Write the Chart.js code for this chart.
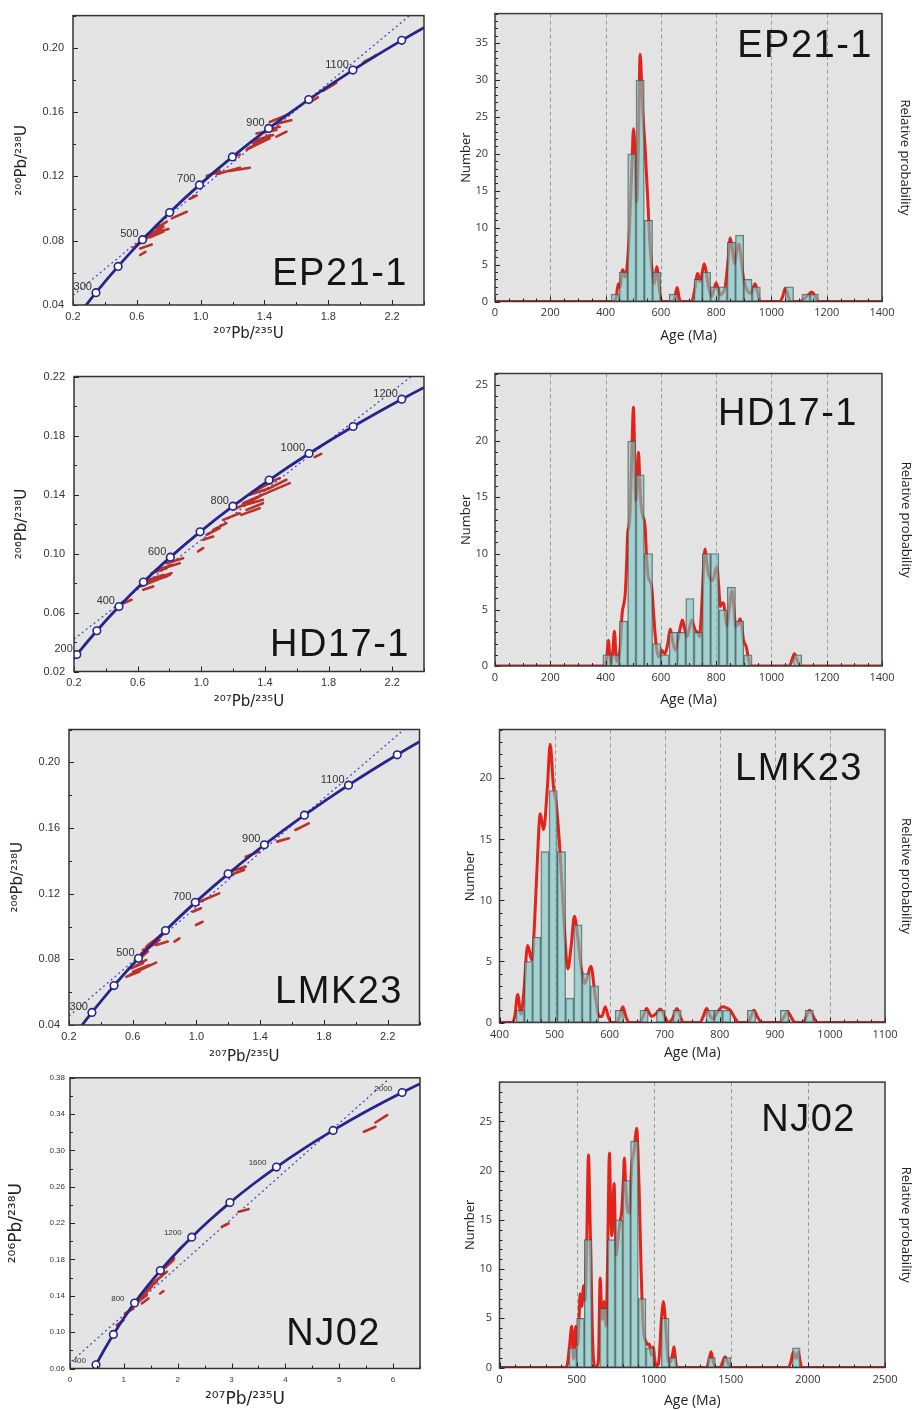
<!DOCTYPE html>
<html><head><meta charset="utf-8">
<script src="https://cdn.jsdelivr.net/npm/chart.js@4.4.0/dist/chart.umd.min.js"></script>
<style>
html,body{margin:0;padding:0;background:#fff;}
#wrap{position:relative;width:914px;height:1410px;overflow:hidden;background:#fff;}
</style></head>
<body><div id="wrap"></div>
<script>
// ---------------- Concordia reference points (age in Ma, 207Pb/235U, 206Pb/238U) ----------------
const concAges = [100,200,300,400,500,600,700,800,900,1000,1100,1200,1300,1400,1500,1600,1700,1800,1900,2000,2100];
const concX = [0.1035,0.2177,0.3438,0.4828,0.6362,0.8056,0.9925,1.1987,1.4264,1.6774,1.9545,2.2603,2.5978,2.9701,3.3810,3.8344,4.3347,4.8867,5.4959,6.1682,6.911];
const concY = [0.01563,0.03151,0.04764,0.06402,0.08065,0.09754,0.1147,0.1321,0.1498,0.1678,0.1861,0.2046,0.2234,0.2426,0.2620,0.2817,0.3018,0.3221,0.3428,0.3638,0.3851];

// ---------------- EP21-1 ----------------
const ep21MarkerAges = [300,400,500,600,700,800,900,1000,1100,1200];
const ep21LabelAges = [300,500,700,900,1100];
const ep21ChordX = [0.2, 2.31];
const ep21ChordY = [0.046, 0.22];
const ep21Ellipses = [
 [0.579,0.0756,0.725,0.0857],[0.600,0.0776,0.746,0.0878],[0.621,0.0796,0.767,0.0888],
 [0.642,0.0817,0.735,0.0898],[0.663,0.0837,0.798,0.0872],[0.683,0.0821,0.767,0.0857],
 [0.621,0.0711,0.654,0.0731],[0.621,0.0752,0.694,0.0776],[0.725,0.0878,0.788,0.0918],
 [0.819,0.0939,0.913,0.0980],[0.933,0.1061,0.975,0.1081],[1.038,0.1203,1.121,0.1234],
 [1.100,0.1213,1.246,0.1254],[1.183,0.1234,1.308,0.1254],[1.204,0.1325,1.246,0.1335],
 [1.288,0.1366,1.413,0.1427],[1.298,0.1376,1.433,0.1437],[1.329,0.1406,1.433,0.1457],
 [1.350,0.1467,1.475,0.1488],[1.350,0.1427,1.454,0.1457],[1.475,0.1447,1.538,0.1478],
 [1.413,0.1488,1.496,0.1508],[1.433,0.1538,1.558,0.1589],[1.475,0.1528,1.569,0.1549],
 [1.683,0.1660,1.735,0.1691],[1.767,0.1732,1.850,0.1782],[2.017,0.1904,2.100,0.1955],
 [2.027,0.1915,2.090,0.1945]
];
const ep21BinStart = 420, ep21BinWidth = 30;
const ep21Counts = [1,4,20,30,11,4,0,1,0,0,3,4,2,2,8,9,3,2,0,0,0,2,0,1,1];
const ep21CurveAge  = [0,425,438,446,452,462,471,483,495,501,507,513,519,525,530,535,543,553,560,567,576,585,595,603,645,652,659,666,672,712,722,733,742,750,757,765,772,784,792,800,808,815,825,833,843,851,858,867,875,882,890,899,911,926,933,941,950,959,1030,1040,1050,1059,1068,1105,1115,1130,1146,1158,1171,1400];
const ep21CurveProb = [0,0,0.5,2.4,1.9,4.3,3.3,7.3,18,23.4,20,13.5,22,33.5,30,25.5,20.8,13.5,8,4.7,2.4,4.7,1.6,0,0,0.8,1.9,0.5,0,0,1.5,3.8,2.7,4.0,5.1,3.8,2.0,0.7,1.6,2.5,1.6,0.9,1.2,2.0,5.5,8.6,7.2,5.1,6.8,7.8,6.0,3.1,1.6,1.1,1.8,2.4,1.2,0,0,0.6,1.8,1.0,0,0,0.3,0.8,1.3,0.7,0,0];

// ---------------- HD17-1 ----------------
const hd17MarkerAges = [200,300,400,500,600,700,800,900,1000,1100,1200];
const hd17LabelAges = [200,400,600,800,1000,1200];
const hd17ChordX = [0.2, 2.32];
const hd17ChordY = [0.042, 0.22];
const hd17Ellipses = [
 [0.489,0.0652,0.562,0.0686],[0.614,0.0776,0.803,0.0855],[0.635,0.0799,0.782,0.0844],
 [0.656,0.0810,0.813,0.0867],[0.667,0.0821,0.761,0.0855],[0.635,0.0754,0.698,0.0776],
 [0.688,0.0867,0.782,0.0900],[0.719,0.0889,0.823,0.0923],[0.761,0.0900,0.865,0.0934],
 [0.782,0.0934,0.886,0.0968],[0.980,0.1014,1.012,0.1036],[1.012,0.1093,1.075,0.1115],
 [1.033,0.1127,1.116,0.1172],[1.075,0.1160,1.158,0.1206],[1.137,0.1228,1.242,0.1273],
 [1.200,0.1296,1.367,0.1386],[1.242,0.1319,1.388,0.1364],[1.263,0.1341,1.409,0.1409],
 [1.252,0.1262,1.367,0.1307],[1.284,0.1296,1.388,0.1341],[1.305,0.1398,1.430,0.1443],
 [1.326,0.1420,1.451,0.1488],[1.367,0.1454,1.493,0.1511],[1.409,0.1409,1.556,0.1477],
 [1.430,0.1443,1.535,0.1500],[1.713,0.1653,1.754,0.1676]
];
const hd17BinStart = 390, hd17BinWidth = 30;
const hd17Counts = [1,1,4,20,17,10,2,1,3,3,6,3,10,10,5,7,4,1,0,0,0,0,0,1];
const hd17CurveAge  = [0,398,405,410,415,419,426,432,437,440,447,453,460,466,471,476,480,485,489,495,501,505,509,514,519,523,527,531,535,543,549,554,559,567,573,579,585,591,597,603,609,615,625,634,643,652,658,664,672,678,686,694,703,712,718,724,732,740,745,750,755,760,766,772,780,788,796,803,809,815,821,827,833,839,848,857,864,871,879,887,893,899,909,916,923,1065,1075,1083,1092,1104,1400];
const hd17CurveProb = [0,0,1.0,2.3,1.0,0.2,1.2,3.1,1.2,0.4,0.8,1.7,4.7,5.5,6.4,9,11.8,12.5,13.8,19,23,19,14.7,16,19,17,14.7,13.8,13.3,12.4,9.4,8.0,7.6,7.0,5.0,2.9,1.5,0.8,1.0,1.4,1.2,1.1,2.0,3.3,2.2,1.4,1.8,2.6,3.6,4.1,3.3,2.6,3.3,4.1,3.7,3.2,3.0,2.6,4.0,6.4,9.0,10.4,9.2,8.2,7.7,7.6,8.4,8.8,7.2,5.3,5.6,5.6,4.5,3.5,5.2,6.7,5.2,3.5,3.7,4.2,3.5,2.3,1.7,0.8,0,0,0.6,1.1,0.6,0,0];

// ---------------- LMK23 ----------------
const lmk23MarkerAges = [300,400,500,600,700,800,900,1000,1100,1200];
const lmk23LabelAges = [300,500,700,900,1100];
const lmk23ChordX = [0.2, 2.304];
const lmk23ChordY = [0.0455, 0.22];
const lmk23Ellipses = [
 [0.581,0.0705,0.747,0.0780],[0.602,0.0725,0.706,0.0765],[0.591,0.0745,0.664,0.0776],
 [0.560,0.0694,0.643,0.0725],[0.612,0.0755,0.685,0.0796],[0.633,0.0796,0.695,0.0847],
 [0.654,0.0837,0.768,0.0918],[0.664,0.0857,0.747,0.0897],[0.685,0.0877,0.789,0.0958],
 [0.695,0.0887,0.810,0.0969],[0.747,0.0887,0.820,0.0908],[0.862,0.0908,0.893,0.0928],
 [0.768,0.0938,0.799,0.0958],[0.976,0.1090,1.028,0.1111],[0.997,0.1009,1.039,0.1029],
 [1.018,0.1151,1.143,0.1202],[1.205,0.1334,1.309,0.1364],[1.184,0.1304,1.299,0.1344],
 [1.309,0.1425,1.393,0.1456],[1.507,0.1517,1.580,0.1537],[1.621,0.1588,1.705,0.1628]
];
const lmk23BinStart = 430, lmk23BinWidth = 15;
const lmk23Counts = [1,5,7,14,19,14,2,8,4,3,0,0,1,0,0,1,0,1,0,1,0,0,0,1,1,1,0,0,1,0,0,0,1,0,0,1];
const lmk23CurveAge  = [400,424,428,433,439,444,451,459,464,468,474,480,487,492,498,503,510,517,524,530,536,542,548,555,560,566,574,581,586,592,598,603,613,618,624,630,636,655,661,667,676,684,692,700,707,714,722,729,734,764,770,776,783,788,795,805,812,819,827,834,850,856,862,869,876,909,916,923,930,937,952,957,963,970,976,1100];
const lmk23CurveProb = [0,0,0.6,2.3,0.7,2.4,6.3,5.1,8.5,12.5,17.1,15.8,19.3,22.8,19.3,18,13.9,8.4,4.4,6.2,8.7,7.0,4.6,3.2,3.8,4.6,2.1,0.5,0.5,1.3,0.4,0,0,0.5,1.3,0.4,0,0,0.5,1.15,0.5,0.7,1.1,0.5,0,0.3,1.15,0.4,0,0,0.5,1.15,0.5,0.3,0.8,1.3,1.2,1.0,0.4,0,0,0.4,1.0,0.4,0,0,0.4,0.9,0.4,0,0,0.5,1.0,0.5,0,0];

// ---------------- NJ02 ----------------
const nj02MarkerAges = [400,600,800,1000,1200,1400,1600,1800,2000];
const nj02LabelAges = [400,800,1200,1600,2000];
const nj02ChordX = [0.03, 5.89];
const nj02ChordY = [0.068, 0.377];
const nj02Ellipses = [
 [0.868,0.1077,0.992,0.1132],[1.023,0.1206,1.178,0.1260],[1.116,0.1260,1.302,0.1352],
 [1.178,0.1297,1.426,0.1407],[1.240,0.1334,1.488,0.1481],[1.271,0.1371,1.550,0.1536],
 [1.302,0.1407,1.519,0.1499],[1.364,0.1444,1.612,0.1554],[1.426,0.1481,1.643,0.1591],
 [1.333,0.1316,1.457,0.1371],[1.612,0.1572,1.736,0.1635],[1.643,0.1591,1.798,0.1664],
 [1.674,0.1426,1.736,0.1451],[1.767,0.1710,1.922,0.1793],[1.829,0.1774,1.934,0.1811],
 [2.015,0.1903,2.077,0.1939],[2.821,0.2160,2.945,0.2196],[3.131,0.2325,3.317,0.2354],
 [5.456,0.3206,5.673,0.3261],[5.673,0.3308,5.890,0.3389]
];
const nj02BinStart = 450, nj02BinWidth = 50;
const nj02Counts = [2,5,13,0,6,13,15,19,23,7,2,0,5,1,0,0,0,0,1,0,1,0,0,0,0,0,0,0,0,2];
const nj02CurveAge  = [0,426,440,454,469,480,495,506,515,523,534,545,555,565,577,586,594,601,609,618,627,635,642,653,660,666,672,678,684,691,700,713,720,728,735,743,750,756,767,778,793,803,810,818,825,834,843,850,858,865,873,882,890,898,905,912,918,925,933,941,951,962,972,979,985,992,998,1005,1013,1022,1031,1038,1046,1055,1063,1071,1078,1087,1096,1106,1117,1125,1132,1140,1150,1344,1358,1372,1386,1400,1430,1446,1463,1480,1500,1873,1890,1906,1915,1923,1930,1938,1948,1960,2500];
const nj02CurveProb = [0,0,0.3,2.2,4.2,0.9,4.2,2.2,4.5,7.5,6.2,8.3,6.8,12,21.6,16,10.1,4.5,0.9,0.1,0,0.2,0.9,9.1,6.5,4.9,5.7,6.7,5.8,4.2,10,21.8,17,13.4,15.8,18.7,14.5,11.4,12.8,14.4,16,19,21.3,18.5,16.7,15.8,15.7,18,20.7,21.4,22,23.6,24.3,22,18.4,14,10.1,6.5,3.9,3.0,2.6,2.3,2.4,1.8,1.25,1.7,2.1,1.0,0.3,0.2,0.4,1.5,3.9,5.8,6.7,5.7,4.2,2.0,0.6,0.5,0.9,1.6,2.1,1.0,0,0,0.7,1.6,0.6,0,0,0.5,1.1,0.5,0,0,0.6,1.6,1.2,0.9,1.2,1.6,0.8,0,0];

// ---------------- Tick labels ----------------
const concXTicks = [0.2,0.6,1.0,1.4,1.8,2.2];
const ep21YTicks = [0.04,0.08,0.12,0.16,0.20];
const hd17YTicks = [0.02,0.06,0.10,0.14,0.18,0.22];
const lmk23YTicks = [0.04,0.08,0.12,0.16,0.20];
const nj02XTicks = [0,1,2,3,4,5,6];
const nj02YTicks = [0.06,0.10,0.14,0.18,0.22,0.26,0.30,0.34,0.38];
const ageTicks1400 = [0,200,400,600,800,1000,1200,1400];
const ageGrid1400 = [200,400,600,800,1000,1200];
const lmkAgeTicks = [400,500,600,700,800,900,1000,1100];
const lmkAgeGrid = [500,600,700,800,900,1000];
const njAgeTicks = [0,500,1000,1500,2000,2500];
const njAgeGrid = [500,1000,1500,2000];
const ep21NumTicks = [0,5,10,15,20,25,30,35];
const hd17NumTicks = [0,5,10,15,20,25];
const lmk23NumTicks = [0,5,10,15,20];
const nj02NumTicks = [0,5,10,15,20,25];

// ---------------- Rendering ----------------
const wrap = document.getElementById('wrap');
const SANS = '"Liberation Sans", Arial, sans-serif';
const OPEN = '"Open Sans", "Liberation Sans", sans-serif';
const DEJA = '"DejaVu Sans", sans-serif';
Chart.defaults.font.family = SANS;

function addCanvas(c){
  const cv = document.createElement('canvas');
  cv.width = c.w; cv.height = c.h;
  cv.style.cssText = `position:absolute;left:${c.l}px;top:${c.t}px;width:${c.w}px;height:${c.h}px;`;
  wrap.appendChild(cv);
  return cv;
}
const fixTicks = arr => s => { s.ticks = arr.map(v => ({value: v})); };

function makeDeco(o){
  return {
    id: 'deco',
    beforeDraw(chart){
      const {ctx, chartArea: a} = chart;
      ctx.save(); ctx.fillStyle = o.bg;
      ctx.fillRect(a.left, a.top, a.right - a.left, a.bottom - a.top);
      ctx.restore();
    },
    beforeDatasetsDraw(chart){
      if (!o.gridX) return;
      const {ctx, chartArea: a} = chart; const xs = chart.scales.x;
      ctx.save(); ctx.strokeStyle = 'rgba(140,140,140,0.85)'; ctx.lineWidth = 1; ctx.setLineDash([4,3]);
      o.gridX.forEach(v => {
        const px = Math.round(xs.getPixelForValue(v)) + 0.5;
        ctx.beginPath(); ctx.moveTo(px, a.top); ctx.lineTo(px, a.bottom); ctx.stroke();
      });
      ctx.restore();
    },
    afterDraw(chart){
      const {ctx, chartArea: a} = chart; const xs = chart.scales.x, ys = chart.scales.y;
      ctx.save();
      ctx.strokeStyle = '#222'; ctx.lineWidth = 1;
      const tx = (v, len) => { const p = Math.round(xs.getPixelForValue(v)) + 0.5; ctx.beginPath(); ctx.moveTo(p, a.bottom); ctx.lineTo(p, a.bottom - len); ctx.stroke(); };
      const ty = (v, len) => { const p = Math.round(ys.getPixelForValue(v)) + 0.5; ctx.beginPath(); ctx.moveTo(a.left, p); ctx.lineTo(a.left + len, p); ctx.stroke(); };
      for (let k = 0; ; k++) { const v = o.xMin + k * o.xMinor; if (v > o.xMax + 1e-9) break; tx(v, 3); }
      for (let k = 0; ; k++) { const v = o.yMin + k * o.yMinor; if (v > o.yMax + 1e-9) break; ty(v, 3); }
      o.xTicks.forEach(v => tx(v, 5));
      o.yTicks.forEach(v => ty(v, 5));
      ctx.strokeStyle = o.frame; ctx.lineWidth = 1.5;
      ctx.strokeRect(a.left, a.top, a.right - a.left, a.bottom - a.top);
      if (o.labelAges) {
        ctx.font = `${o.lblFont}px ${SANS}`; ctx.fillStyle = '#333';
        ctx.textAlign = 'right'; ctx.textBaseline = 'middle';
        o.labelAges.forEach(age => {
          const i = concAges.indexOf(age);
          const px = xs.getPixelForValue(concX[i]), py = ys.getPixelForValue(concY[i]);
          ctx.fillText(String(age), px + o.lblDx, py + o.lblDy);
        });
      }
      ctx.font = `38px ${SANS}`; ctx.fillStyle = '#151515';
      try { ctx.letterSpacing = '1.5px'; } catch(e) {}
      ctx.textAlign = 'right'; ctx.textBaseline = 'alphabetic';
      ctx.fillText(o.name, o.nameX, o.nameY);
      ctx.restore();
    }
  };
}

function metrics(g){
  const c = g.c, A = g.area;
  const lh = f => f * 1.2 / 2;
  return {
    padT: A.T - c.t,
    padR: g.hist ? 0 : (c.l + c.w - A.R),
    yW: A.L - c.l,
    xH: c.t + c.h - A.B,
    y2W: c.l + c.w - A.R,
    yTitlePad: Math.max(0, g.yTitleX - c.l - lh(g.yTitleFont)),
    y2TitlePad: g.hist ? Math.max(0, c.l + c.w - g.y2TitleX - lh(13)) : 0,
    xTitlePad: Math.max(0, c.t + c.h - g.xTitleY - lh(g.xTitleFont)),
    xTickPad: Math.max(0, g.xTickY - A.B - lh(g.tickFont)),
    yTickPad: Math.max(0, A.L - g.yTickR),
    nameX: g.name.x - c.l, nameY: g.name.y - c.t
  };
}

function concordia(name, d, g){
  const m = metrics(g);
  const pos = a => concAges.indexOf(a);
  const curve = concAges.map((a, i) => ({x: concX[i], y: concY[i]}));
  const marks = d.markers.map(a => ({x: concX[pos(a)], y: concY[pos(a)]}));
  const ell = [];
  d.ellipses.forEach(e => { ell.push({x: e[0], y: e[1]}, {x: e[2], y: e[3]}, {x: e[2], y: NaN}); });
  const chord = d.chordX.map((x, i) => ({x: x, y: d.chordY[i]}));
  const deco = makeDeco({bg: '#e4e4e4', frame: '#333', name: name, nameX: m.nameX, nameY: m.nameY,
    xMin: d.xMin, xMax: d.xMax, xMinor: d.xMinor, yMin: d.yMin, yMax: d.yMax, yMinor: d.yMinor,
    xTicks: d.xTicks, yTicks: d.yTicks, labelAges: d.labels, lblFont: g.lblFont, lblDx: g.lblDx, lblDy: g.lblDy});
  new Chart(addCanvas(g.c), {
    type: 'scatter',
    data: {datasets: [
      {data: chord, showLine: true, borderColor: '#4848c0', borderWidth: 1.3, borderDash: [2, 3], pointRadius: 0, order: 4},
      {data: ell, showLine: true, spanGaps: false, borderColor: 'rgba(180,30,22,0.9)', borderWidth: 2.6, borderCapStyle: 'round', pointRadius: 0, order: 3},
      {data: curve, showLine: true, borderColor: '#25258d', borderWidth: 2.8, pointRadius: 0, cubicInterpolationMode: 'monotone', order: 2},
      {data: marks, showLine: false, pointRadius: 3.8, pointBackgroundColor: '#ffffff', pointBorderColor: '#25258d', pointBorderWidth: 1.6, order: 1}
    ]},
    options: {
      responsive: false, animation: false, events: [],
      layout: {padding: {left: 0, top: m.padT, right: m.padR, bottom: 0}},
      plugins: {legend: {display: false}, tooltip: {enabled: false}},
      scales: {
        x: {type: 'linear', min: d.xMin, max: d.xMax, afterBuildTicks: fixTicks(d.xTicks), afterFit: s => { s.height = m.xH; },
            grid: {display: false, drawTicks: false}, border: {display: false},
            ticks: {autoSkip: false, maxRotation: 0, padding: m.xTickPad, color: '#333', font: {size: g.tickFont, family: SANS}, callback: v => Number(v).toFixed(d.xDec)},
            title: {display: true, text: '²⁰⁷Pb/²³⁵U', color: '#222', font: {size: g.xTitleFont, family: DEJA}, padding: {top: 0, bottom: m.xTitlePad}}},
        y: {type: 'linear', min: d.yMin, max: d.yMax, afterBuildTicks: fixTicks(d.yTicks), afterFit: s => { s.width = m.yW; },
            grid: {display: false, drawTicks: false}, border: {display: false},
            ticks: {autoSkip: false, padding: m.yTickPad, color: '#333', font: {size: g.tickFont, family: SANS}, callback: v => Number(v).toFixed(2)},
            title: {display: true, text: '²⁰⁶Pb/²³⁸U', color: '#222', font: {size: g.yTitleFont, family: DEJA}, padding: {top: m.yTitlePad, bottom: 0}}}
      }
    },
    plugins: [deco]
  });
}

function histogram(name, d, g){
  const m = metrics(g);
  const bars = d.counts.map((c, i) => ({x: d.binStart + d.binWidth * (i + 0.5), y: c > 0 ? c : null}));
  const curve = d.curveAge.map((a, i) => ({x: a, y: d.curveProb[i]}));
  const deco = makeDeco({bg: '#e3e3e3', frame: '#3a3a3a', name: name, nameX: m.nameX, nameY: m.nameY, gridX: d.gridX,
    xMin: d.xMin, xMax: d.xMax, xMinor: d.xMinor, yMin: 0, yMax: d.yMax, yMinor: 1,
    xTicks: d.xTicks, yTicks: d.yTicks});
  new Chart(addCanvas(g.c), {
    type: 'bar',
    data: {datasets: [
      {type: 'line', data: curve, borderColor: '#e5221a', borderWidth: 3, pointRadius: 0, cubicInterpolationMode: 'monotone', order: 2},
      {type: 'bar', data: bars, backgroundColor: 'rgba(125,198,196,0.62)', borderColor: 'rgba(60,80,80,0.75)', borderWidth: 1, borderSkipped: false, barPercentage: 1, categoryPercentage: 1, order: 1}
    ]},
    options: {
      responsive: false, animation: false, events: [],
      layout: {padding: {left: 0, top: m.padT, right: 0, bottom: 0}},
      plugins: {legend: {display: false}, tooltip: {enabled: false}},
      scales: {
        x: {type: 'linear', min: d.xMin, max: d.xMax, offset: false, afterBuildTicks: fixTicks(d.xTicks), afterFit: s => { s.height = m.xH; },
            grid: {display: false, drawTicks: false, offset: false}, border: {display: false},
            ticks: {autoSkip: false, maxRotation: 0, padding: m.xTickPad, color: '#333', font: {size: g.tickFont, family: OPEN}, callback: v => String(v)},
            title: {display: true, text: 'Age (Ma)', color: '#222', font: {size: g.xTitleFont, family: OPEN}, padding: {top: 0, bottom: m.xTitlePad}}},
        y: {type: 'linear', min: 0, max: d.yMax, afterBuildTicks: fixTicks(d.yTicks), afterFit: s => { s.width = m.yW; },
            grid: {display: false, drawTicks: false}, border: {display: false},
            ticks: {autoSkip: false, padding: m.yTickPad, color: '#333', font: {size: g.tickFont, family: OPEN}, callback: v => String(v)},
            title: {display: true, text: 'Number', color: '#222', font: {size: g.yTitleFont, family: OPEN}, padding: {top: m.yTitlePad, bottom: 0}}},
        y2: {type: 'linear', position: 'right', min: 0, max: 1, afterFit: s => { s.width = m.y2W; },
            grid: {display: false, drawTicks: false}, border: {display: false}, ticks: {display: false},
            title: {display: true, text: 'Relative probability', color: '#222', font: {size: 13, family: OPEN}, padding: {top: m.y2TitlePad, bottom: 0}}}
      }
    },
    plugins: [deco]
  });
}

// ---------------- Layout (page pixel geometry) ----------------
const baseC = {tickFont: 11, xTitleFont: 15, yTitleFont: 15, lblFont: 11, lblDx: -4, lblDy: -5.5};
const baseH = {hist: true, tickFont: 11, xTitleFont: 14, yTitleFont: 13};
const L = {
  c1: Object.assign({}, baseC, {c: {l:0, t:0, w:440, h:355}, area: {L:73, T:10, R:424, B:305}, yTitleX: 22, xTitleY: 334, xTickY: 317, yTickR: 64, name: {x:408, y:285}}),
  c2: Object.assign({}, baseC, {c: {l:0, t:358, w:440, h:355}, area: {L:74, T:376.5, R:424, B:671.5}, yTitleX: 22, xTitleY: 702, xTickY: 683, yTickR: 65, name: {x:410, y:656}}),
  c3: Object.assign({}, baseC, {c: {l:0, t:713, w:440, h:355}, area: {L:69, T:729.5, R:419.5, B:1025}, yTitleX: 18, xTitleY: 1057, xTickY: 1036.5, yTickR: 60, name: {x:403, y:1003}}),
  c4: Object.assign({}, baseC, {c: {l:0, t:1068, w:440, h:342}, area: {L:70, T:1077, R:420, B:1368.5}, yTitleX: 17, xTitleY: 1400, xTickY: 1380, yTickR: 65, name: {x:381, y:1345},
        tickFont: 8, lblFont: 8, lblDx: -10, lblDy: -4, xTitleFont: 17, yTitleFont: 17}),
  h1: Object.assign({}, baseH, {c: {l:440, t:0, w:474, h:355}, area: {L:495, T:8, R:882, B:301.5}, yTitleX: 466, y2TitleX: 905, xTitleY: 336, xTickY: 313, yTickR: 488, name: {x:873, y:57}}),
  h2: Object.assign({}, baseH, {c: {l:440, t:358, w:474, h:355}, area: {L:495, T:373.5, R:882, B:666}, yTitleX: 466, y2TitleX: 906, xTitleY: 700.5, xTickY: 678, yTickR: 488, name: {x:858, y:425}}),
  h3: Object.assign({}, baseH, {c: {l:440, t:713, w:474, h:355}, area: {L:499.5, T:729.5, R:885, B:1022.5}, yTitleX: 470, y2TitleX: 911, xTitleY: 1053, xTickY: 1035, yTickR: 492, name: {x:863, y:780}}),
  h4: Object.assign({}, baseH, {c: {l:440, t:1068, w:474, h:342}, area: {L:499.5, T:1074.5, R:885, B:1367.5}, yTitleX: 470, y2TitleX: 911, xTitleY: 1401, xTickY: 1380, yTickR: 492, name: {x:856, y:1131}})
};

concordia('EP21-1', {markers: ep21MarkerAges, labels: ep21LabelAges, ellipses: ep21Ellipses, chordX: ep21ChordX, chordY: ep21ChordY,
  xMin: 0.2, xMax: 2.4, xMinor: 0.2, xTicks: concXTicks, xDec: 1, yMin: 0.04, yMax: 0.22, yMinor: 0.02, yTicks: ep21YTicks}, L.c1);
concordia('HD17-1', {markers: hd17MarkerAges, labels: hd17LabelAges, ellipses: hd17Ellipses, chordX: hd17ChordX, chordY: hd17ChordY,
  xMin: 0.2, xMax: 2.4, xMinor: 0.2, xTicks: concXTicks, xDec: 1, yMin: 0.02, yMax: 0.22, yMinor: 0.02, yTicks: hd17YTicks}, L.c2);
concordia('LMK23', {markers: lmk23MarkerAges, labels: lmk23LabelAges, ellipses: lmk23Ellipses, chordX: lmk23ChordX, chordY: lmk23ChordY,
  xMin: 0.2, xMax: 2.4, xMinor: 0.2, xTicks: concXTicks, xDec: 1, yMin: 0.04, yMax: 0.22, yMinor: 0.02, yTicks: lmk23YTicks}, L.c3);
concordia('NJ02', {markers: nj02MarkerAges, labels: nj02LabelAges, ellipses: nj02Ellipses, chordX: nj02ChordX, chordY: nj02ChordY,
  xMin: 0, xMax: 6.5, xMinor: 0.5, xTicks: nj02XTicks, xDec: 0, yMin: 0.06, yMax: 0.38, yMinor: 0.02, yTicks: nj02YTicks}, L.c4);

histogram('EP21-1', {counts: ep21Counts, binStart: ep21BinStart, binWidth: ep21BinWidth, curveAge: ep21CurveAge, curveProb: ep21CurveProb,
  xMin: 0, xMax: 1400, xMinor: 50, xTicks: ageTicks1400, gridX: ageGrid1400, yMax: 39, yTicks: ep21NumTicks}, L.h1);
histogram('HD17-1', {counts: hd17Counts, binStart: hd17BinStart, binWidth: hd17BinWidth, curveAge: hd17CurveAge, curveProb: hd17CurveProb,
  xMin: 0, xMax: 1400, xMinor: 50, xTicks: ageTicks1400, gridX: ageGrid1400, yMax: 26, yTicks: hd17NumTicks}, L.h2);
histogram('LMK23', {counts: lmk23Counts, binStart: lmk23BinStart, binWidth: lmk23BinWidth, curveAge: lmk23CurveAge, curveProb: lmk23CurveProb,
  xMin: 400, xMax: 1100, xMinor: 25, xTicks: lmkAgeTicks, gridX: lmkAgeGrid, yMax: 24, yTicks: lmk23NumTicks}, L.h3);
histogram('NJ02', {counts: nj02Counts, binStart: nj02BinStart, binWidth: nj02BinWidth, curveAge: nj02CurveAge, curveProb: nj02CurveProb,
  xMin: 0, xMax: 2500, xMinor: 100, xTicks: njAgeTicks, gridX: njAgeGrid, yMax: 29, yTicks: nj02NumTicks}, L.h4);
</script>
</body></html>
